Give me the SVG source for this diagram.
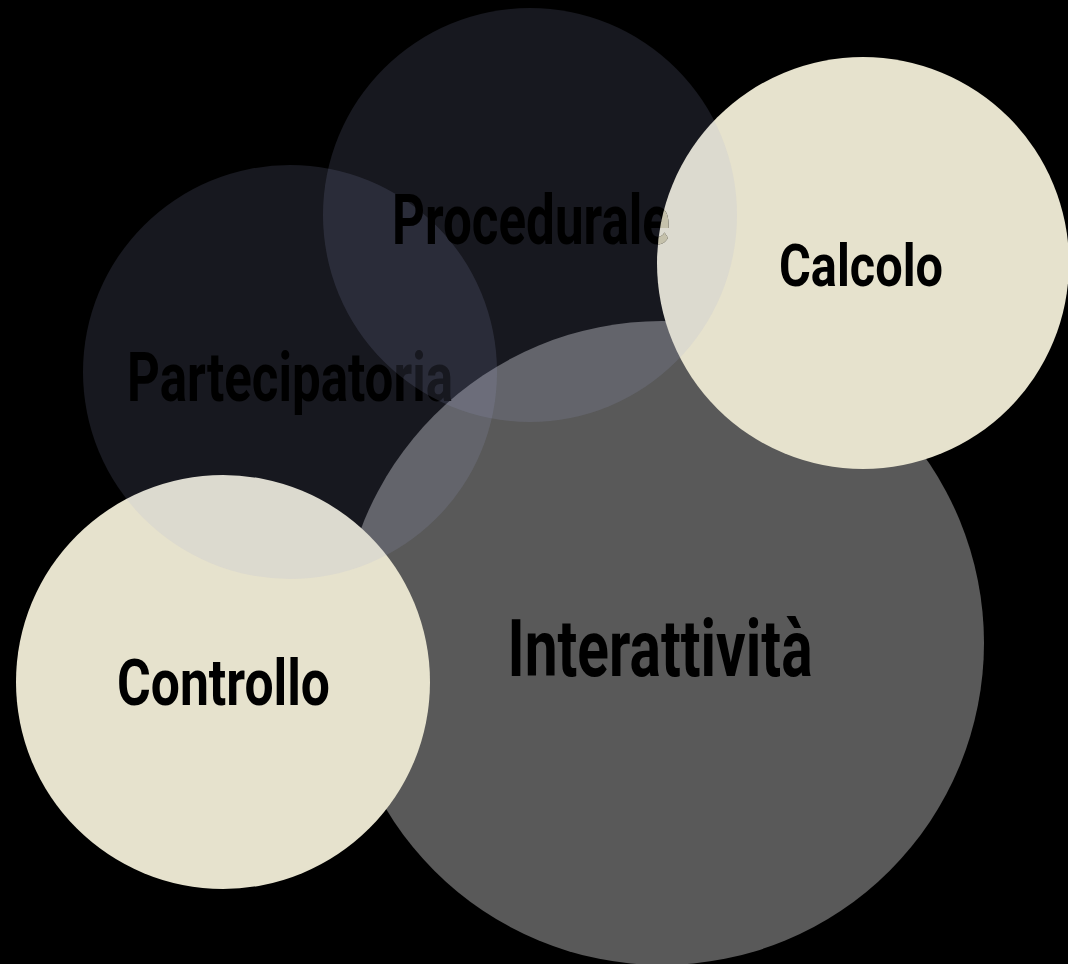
<svg xmlns="http://www.w3.org/2000/svg" width="1068" height="964" viewBox="0 0 1068 964">
<defs>
<style>
.lbl{font-family:Roboto,"Liberation Sans",sans-serif;font-weight:700;fill:#000;text-anchor:middle}
.cream{fill:#e6e2cd}
.dark{fill:rgb(164,171,221);fill-opacity:0.14}
</style>
<clipPath id="clipCalcolo"><circle cx="863" cy="263" r="206"/></clipPath>
</defs>
<rect width="1068" height="964" fill="#000"/>
<g id="node-interattivita">
<circle cx="662" cy="643" r="322" fill="#595959"/>
<text class="lbl" x="660" y="676" font-size="79" textLength="305" lengthAdjust="spacingAndGlyphs">Interattività</text>
</g>
<g id="node-calcolo">
<circle class="cream" cx="863" cy="263" r="206"/>
<text class="lbl" x="861" y="286" font-size="60" textLength="164" lengthAdjust="spacingAndGlyphs">Calcolo</text>
</g>
<g id="node-controllo">
<circle class="cream" cx="223" cy="682" r="207"/>
<text class="lbl" x="223.5" y="705" font-size="64" textLength="213" lengthAdjust="spacingAndGlyphs">Controllo</text>
</g>
<g id="node-partecipatoria">
<circle class="dark" cx="290" cy="372" r="207"/>
<text class="lbl" x="290" y="401" font-size="68" textLength="326" lengthAdjust="spacingAndGlyphs">Partecipatoria</text>
</g>
<g id="node-procedurale">
<circle class="dark" cx="530" cy="215" r="207"/>
<text class="lbl" x="531" y="244" font-size="70" textLength="278" lengthAdjust="spacingAndGlyphs">Procedurale</text>
<text class="lbl" x="531" y="244" font-size="70" textLength="278" lengthAdjust="spacingAndGlyphs" clip-path="url(#clipCalcolo)" style="fill:#c5c1ab">Procedurale</text>
</g>
<g id="connectors"/>
</svg>
